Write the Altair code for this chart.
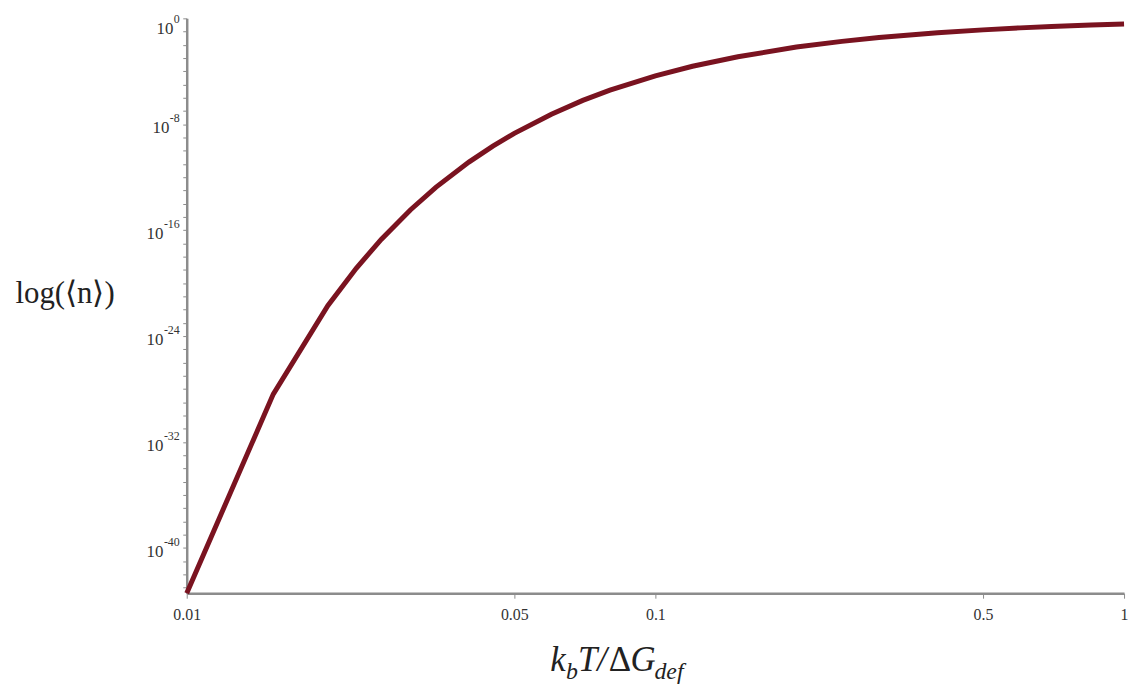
import altair as alt
import pandas as pd

x_vals = [0.01, 0.0153, 0.02, 0.023, 0.026, 0.03, 0.034, 0.04, 0.045, 0.05,
          0.06, 0.07, 0.08, 0.1, 0.12, 0.15, 0.2, 0.25, 0.3, 0.4, 0.5, 0.6,
          0.7, 0.85, 1.0]
# decade exponents of <n> read at those points
log_n = [-43.43, -28.39, -21.71, -18.88, -16.70, -14.48, -12.77, -10.86,
         -9.65, -8.69, -7.24, -6.20, -5.43, -4.34, -3.62, -2.90, -2.17,
         -1.74, -1.45, -1.09, -0.87, -0.72, -0.62, -0.51, -0.43]

x_ticks = [0.01, 0.05, 0.1, 0.5, 1]
x_tick_labels = ["0.01", "0.05", "0.1", "0.5", "1"]
y_major_exp = [0, -8, -16, -24, -32, -40]
y_tick_exp = list(range(0, -44, -1))

df = pd.DataFrame({"x": x_vals, "n": [10 ** e for e in log_n]})

W, H = 944, 579
FONT = "Liberation Serif"
AX = "#8c8c8c"
TXT = "#333333"

x_label_expr = " : ".join(
    f"datum.value == {v} ? '{s}'" for v, s in zip(x_ticks, x_tick_labels)
) + " : ''"

line = alt.Chart(df).mark_line(color="#7a1320", strokeWidth=5, strokeCap="butt").encode(
    x=alt.X("x:Q", scale=alt.Scale(type="log", domain=[0.01, 1], nice=False),
            axis=alt.Axis(values=x_ticks, labelExpr=x_label_expr,
                          title=None, grid=False, domainColor=AX, domainWidth=2.5,
                          tickColor=AX, tickSize=5, labelFont=FONT, labelFontSize=16,
                          labelColor=TXT, labelPadding=8, labelFlush=False)),
    y=alt.Y("n:Q", scale=alt.Scale(type="log", domain=[3.7e-44, 1], nice=False),
            axis=alt.Axis(values=[10 ** e for e in y_tick_exp], labels=False,
                          title="log(⟨n⟩)", titleFont=FONT, titleFontSize=31,
                          titleFontWeight="normal", titleColor="#222", titleAngle=0,
                          titleAlign="center", titleBaseline="middle",
                          titleX=-123, titleY=277,
                          grid=False, domainColor=AX, domainWidth=2.5,
                          tickColor=AX, tickSize=4)),
)

# y tick labels: "10" with a raised exponent
lab_layers = []
for e in y_major_exp:
    exp_txt = str(e)
    w = 6 * sum(1 for c in exp_txt if c.isdigit()) + 4 * exp_txt.count("-")
    shift = 7 if e == 0 else 0  # top label sits just below the axis end
    d = alt.Data(values=[{"v": 10.0 ** e}])
    lab_layers.append(
        alt.Chart(d).mark_text(text=exp_txt, font=FONT, fontSize=12, align="right",
                               baseline="middle", dy=-6 + shift, color=TXT)
        .encode(x=alt.value(-7), y=alt.Y("v:Q"))
    )
    lab_layers.append(
        alt.Chart(d).mark_text(text="10", font=FONT, fontSize=17, align="right",
                               baseline="middle", dy=4 + shift, color=TXT)
        .encode(x=alt.value(-7.5 - w), y=alt.Y("v:Q"))
    )

blank = alt.Data(values=[{"a": 1}])
B = 657  # baseline of x title, relative to plot top
x0 = 366
parts = [
    ("k", x0, B, 35, "italic"),
    ("b", x0 + 16, B + 8, 24, "italic"),
    ("T/", x0 + 28, B, 35, "italic"),
    ("Δ", x0 + 59, B, 35, "normal"),
    ("G", x0 + 81, B, 35, "italic"),
    ("def", x0 + 105, B + 8, 24, "italic"),
]
texts = []
for t, px, py, fs, st in parts:
    texts.append(
        alt.Chart(blank).mark_text(text=t, font=FONT, fontStyle=st, fontSize=fs,
                                   align="left", baseline="alphabetic", color="#222")
        .encode(x=alt.value(px), y=alt.value(py))
    )

chart = alt.layer(line, *lab_layers, *texts).properties(
    width=W, height=H,
    autosize=alt.AutoSizeParams(type="none"),
    padding={"left": 180, "top": 8, "right": 6, "bottom": 90},
).configure(background="white").configure_view(stroke=None)

chart.save("out.html", embed_options={"renderer": "svg", "actions": False})
